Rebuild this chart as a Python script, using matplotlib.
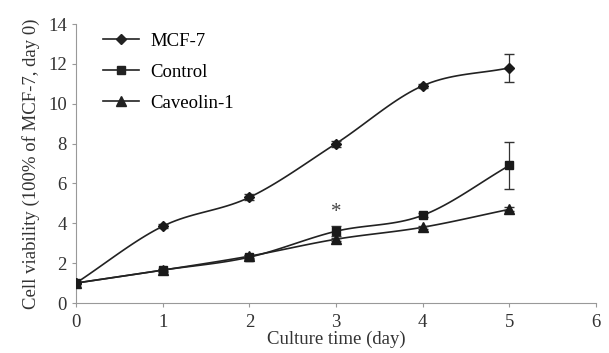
import numpy as np
import matplotlib
matplotlib.use("Agg")
import matplotlib.pyplot as plt

days = [0, 1, 2, 3, 4, 5]
mcf7 = [1.0, 3.85, 5.3, 8.0, 10.9, 11.8]
mcf7_err = [0.05, 0.1, 0.15, 0.15, 0.1, 0.7]
control = [1.0, 1.65, 2.3, 3.6, 4.4, 6.9]
control_err = [0.05, 0.08, 0.1, 0.25, 0.1, 1.2]
caveolin = [1.0, 1.65, 2.35, 3.2, 3.8, 4.7]
caveolin_err = [0.05, 0.05, 0.08, 0.08, 0.08, 0.1]

def smooth(x, y, n=20):
    x = np.asarray(x, float); y = np.asarray(y, float)
    px = np.concatenate([[2*x[0]-x[1]], x, [2*x[-1]-x[-2]]])
    py = np.concatenate([[2*y[0]-y[1]], y, [2*y[-1]-y[-2]]])
    xs, ys = [], []
    for i in range(1, len(px)-2):
        t = np.linspace(0, 1, n, endpoint=False)
        for arr, out in ((px, xs), (py, ys)):
            p0, p1, p2, p3 = arr[i-1], arr[i], arr[i+1], arr[i+2]
            out.extend(0.5*((2*p1) + (-p0+p2)*t + (2*p0-5*p1+4*p2-p3)*t**2 + (-p0+3*p1-3*p2+p3)*t**3))
    xs.append(x[-1]); ys.append(y[-1])
    return np.array(xs), np.array(ys)

plt.rcParams['font.family'] = ['Liberation Serif', 'DejaVu Serif']
fig = plt.figure(figsize=(6.09, 3.53), dpi=100)
ax = fig.add_axes([76/609, 1-303/353, 520/609, 279/353])

series = [(mcf7, mcf7_err, 'D', 5.5, 'MCF-7'),
          (control, control_err, 's', 6, 'Control'),
          (caveolin, caveolin_err, '^', 6.5, 'Caveolin-1')]
for y, e, m, ms, lab in series:
    sx, sy = smooth(days, y)
    ax.plot(sx, sy, color='#222222', lw=1.2, zorder=2)
    ax.errorbar(days, y, yerr=e, fmt='none', ecolor='#333333', elinewidth=0.9, capsize=3.5, zorder=2)
    ax.plot(days, y, linestyle='none', marker=m, ms=ms, color='#1a1a1a', zorder=3)
    ax.plot([], [], color='#222222', lw=1.2, marker=m, ms=ms, label=lab)

ax.text(3, 4.55, '*', ha='center', va='center', fontsize=15, color='#444444')

ax.set_xlim(0, 6)
ax.set_ylim(0, 14)
ax.set_xticks(range(0, 7))
ax.set_yticks(range(0, 15, 2))
for s in ['top', 'right']:
    ax.spines[s].set_visible(False)
for s in ['left', 'bottom']:
    ax.spines[s].set_color('#999999')
    ax.spines[s].set_linewidth(0.8)
ax.tick_params(axis='both', colors='#999999', labelcolor='#333333', labelsize=13.5, length=3, width=0.8)
ax.tick_params(axis='x', pad=5)
ax.set_xlabel('Culture time (day)', fontsize=13.5, color='#333333', labelpad=0)
ax.set_ylabel('Cell viability (100% of MCF-7, day 0)', fontsize=13.5, color='#333333', labelpad=6)
ax.legend(loc='upper left', bbox_to_anchor=(0.02, 1.03), frameon=False, fontsize=13.5,
          handlelength=1.9, labelspacing=0.75, handletextpad=0.6)
fig.savefig('out.png', dpi=100)
